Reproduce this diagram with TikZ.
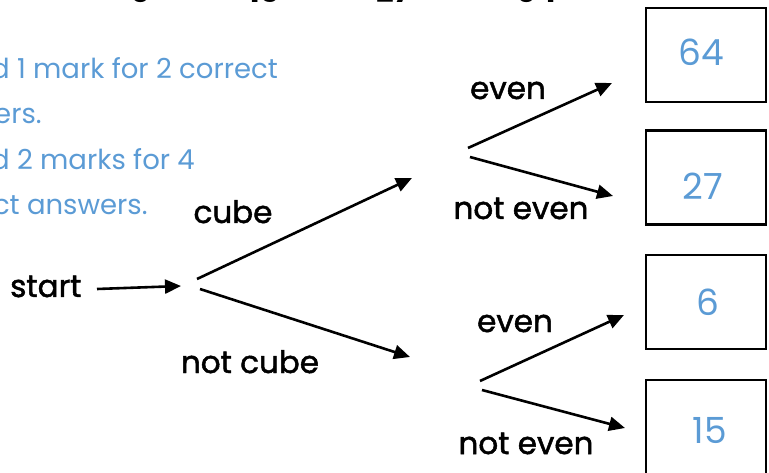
\documentclass[tikz,border=0pt]{standalone}
\usepackage{fontspec}
\setmainfont{Poppins}
\newfontfamily\blkfont{Poppins}[FakeBold=1.6]
\usetikzlibrary{arrows.meta}
\definecolor{ansblue}{RGB}{91,155,213}
\begin{document}
\begin{tikzpicture}[x=1pt,y=-1pt,
  lbl/.style={font=\blkfont\fontsize{31}{31}\selectfont, anchor=base, inner sep=0pt},
  head/.style={font=\bfseries\fontsize{31}{31}\selectfont, anchor=base, inner sep=0pt},
  note/.style={font=\fontsize{27.5}{27.5}\selectfont, text=ansblue, inner sep=0pt},
  ans/.style={draw, line width=2.5pt, minimum width=120pt, minimum height=94pt, inner sep=0pt},
  num/.style={font=\fontsize{36}{36}\selectfont, text=ansblue, anchor=base, inner sep=0pt},
  arr/.style={line width=2.6pt, -{Triangle[length=16pt,width=14pt]}},
]
\useasboundingbox (0,0) rectangle (769,473);
\clip (0,0) rectangle (769,473);
% cut-off heading
\node[head] (h6) at (140,3) {6};
\node[head] (h15) at (264,3) {15};
\node[head] (h27) at (394,3) {27};
\node[head] (h64) at (537,3) {64};
% marking note
\node[note, anchor=base east] (l1) at (278,79) {Award 1 mark for 2 correct};
\path (l1.base west) ++(0,45) node[note, anchor=base west] (l2) {answers.};
\path (l1.base west) ++(0,91) node[note, anchor=base west] (l3) {Award 2 marks for 4};
\path (l1.base west) ++(0,136) node[note, anchor=base west] (l4) {correct answers.};
% answer boxes
\node[ans] (b64) at (706,55) {};
\node[ans] (b27) at (706,177.5) {};
\node[ans] (b6) at (706,302) {};
\node[ans] (b15) at (706,427) {};
\node[num] (n64) at (701,66) {64};
\node[num] (n27) at (703,200) {27};
\node[num] (n6) at (708,316) {6};
\node[num] (n15) at (710,443) {15};
% labels
\node[lbl, anchor=base west] (start) at (10,297) {start};
\node[lbl] (cube) at (233,223) {cube};
\node[lbl] (notcube) at (250,373) {not cube};
\node[lbl] (even1) at (508,99) {even};
\node[lbl] (noteven1) at (521,219) {not even};
\node[lbl] (even2) at (515,332) {even};
\node[lbl] (noteven2) at (526,454) {not even};
% connector points
\coordinate (s0) at (97,289);
\coordinate (s1) at (181,286);
\coordinate (j1a) at (197,279);
\coordinate (j1b) at (200,289);
\coordinate (c1) at (412,178);
\coordinate (c2) at (410,357);
\coordinate (u1) at (468,148);
\coordinate (u2) at (470,157);
\coordinate (ue) at (612,83);
\coordinate (un) at (613,196);
\coordinate (d1) at (480,381);
\coordinate (d2) at (482,390);
\coordinate (de) at (624,315);
\coordinate (dn) at (625,428);
% arrows
\draw[arr] (s0) -- (s1);
\draw[arr] (j1a) -- (c1);
\draw[arr] (j1b) -- (c2);
\draw[arr] (u1) -- (ue);
\draw[arr] (u2) -- (un);
\draw[arr] (d1) -- (de);
\draw[arr] (d2) -- (dn);
\end{tikzpicture}
\end{document}
